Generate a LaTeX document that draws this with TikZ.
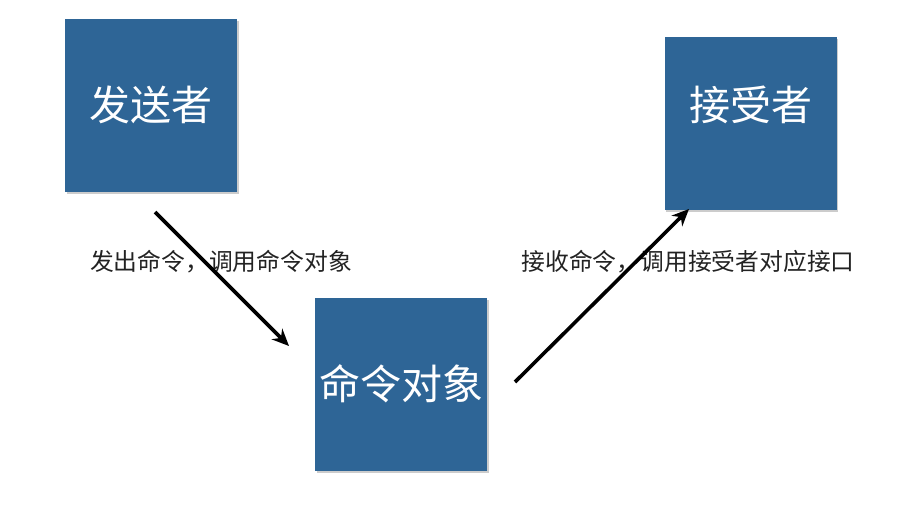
\documentclass[tikz,border=0pt]{standalone}
\usepackage{fontspec}
\setmainfont{Noto Sans CJK SC}
\usetikzlibrary{arrows.meta,shadows}
\definecolor{boxblue}{HTML}{2E6596}
\definecolor{labelgray}{HTML}{222222}
\tikzset{
  bluebox/.style={draw=none, fill=boxblue, minimum width=172pt, minimum height=173pt, inner sep=0pt,
    drop shadow={shadow xshift=1.5pt, shadow yshift=-2.5pt, opacity=0.4}},
  boxtext/.style={text=white, font=\fontsize{41}{44}\selectfont, inner sep=0pt},
  steplabel/.style={text=labelgray, font=\fontsize{23.8}{26}\selectfont, inner sep=0pt},
  flowarrow/.style={line width=3.6pt, -{Stealth[length=17pt,width=15pt]}}
}
\begin{document}
\begin{tikzpicture}[x=1pt,y=-1pt]
\useasboundingbox (0,0) rectangle (918,528);
\node[bluebox] (sender) at (151,105) {};
\node[boxtext] (sendert) at (151,105) {发送者};
\node[bluebox] (cmd) at (401,384) {};
\node[boxtext] (cmdt) at (401,384) {命令对象};
\node[bluebox] (recv) at (750.5,123) {};
\node[boxtext] (recvt) at (750.5,105) {接受者};
\node[steplabel] (l1) at (221,262) {发出命令，调用命令对象};
\node[steplabel] (l2) at (688,262) {接收命令，调用接受者对应接口};
\coordinate (a1s) at (155,212);
\coordinate (a1e) at (289,346);
\coordinate (a2s) at (515,382);
\coordinate (a2e) at (689,209);
\draw[flowarrow] (a1s) -- (a1e);
\draw[flowarrow] (a2s) -- (a2e);
\end{tikzpicture}
\end{document}
